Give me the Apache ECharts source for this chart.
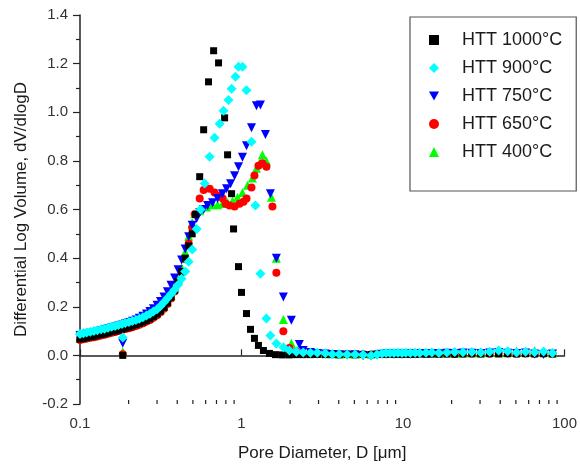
<!DOCTYPE html>
<html><head><meta charset="utf-8">
<script src="https://cdn.jsdelivr.net/npm/echarts@6/dist/echarts.min.js"></script>
<style>html,body{margin:0;padding:0;background:#fff}#c{width:580px;height:467px}</style>
</head><body><div id="c"></div>
<script>
const seriesNames = ['HTT 1000\u00B0C', 'HTT 900\u00B0C', 'HTT 750\u00B0C', 'HTT 650\u00B0C', 'HTT 400\u00B0C'];
const xTickLabels = ['0.1', '1', '10', '100'];
const xMinorTicks = [0.2,0.3,0.4,0.5,0.6,0.7,0.8,0.9,2,3,4,5,6,7,8,9,20,30,40,50,60,70,80,90];

// rising branch (shared diameters, µm)
const dLow = [0.100,0.105,0.110,0.116,0.122,0.128,0.135,0.142,0.149,0.157,0.165,0.173,0.182,0.191,0.201,0.211,0.222,0.233,0.245,0.258,0.271,0.285,0.300,0.315,0.331,0.348,0.366,0.385,0.405,0.426,0.448,0.471,0.495];
const low1000 = [0.067,0.070,0.073,0.076,0.079,0.082,0.086,0.089,0.093,0.097,0.100,0.104,0.108,0.112,0.116,0.121,0.126,0.131,0.137,0.144,0.151,0.160,0.170,0.182,0.197,0.216,0.239,0.268,0.303,0.345,0.400,0.450,0.500];
const low900  = [0.088,0.091,0.094,0.097,0.100,0.103,0.107,0.110,0.114,0.118,0.121,0.125,0.129,0.133,0.137,0.141,0.146,0.151,0.157,0.164,0.171,0.180,0.190,0.203,0.218,0.235,0.252,0.270,0.290,0.315,0.345,0.385,0.435];
const low750  = [0.082,0.085,0.088,0.091,0.094,0.097,0.101,0.105,0.109,0.113,0.117,0.121,0.125,0.130,0.135,0.140,0.146,0.153,0.161,0.170,0.180,0.192,0.206,0.222,0.240,0.262,0.288,0.318,0.352,0.392,0.438,0.488,0.535];
const low650  = [0.063,0.066,0.069,0.072,0.075,0.078,0.082,0.085,0.089,0.093,0.096,0.100,0.104,0.108,0.112,0.116,0.121,0.126,0.132,0.139,0.146,0.155,0.165,0.177,0.192,0.211,0.234,0.263,0.298,0.340,0.395,0.460,0.525];
const low400  = [0.070,0.073,0.076,0.079,0.082,0.085,0.089,0.092,0.096,0.100,0.103,0.107,0.111,0.115,0.119,0.124,0.129,0.134,0.140,0.147,0.155,0.164,0.175,0.188,0.203,0.222,0.246,0.276,0.312,0.360,0.425,0.490,0.545];

// peak and fall-off [D, dV/dlogD]
const peak1000 = [[0.520,0.580],[0.551,0.735],[0.583,0.928],[0.625,1.125],[0.672,1.253],[0.721,1.203],[0.786,0.977],[0.820,0.825],[0.868,0.665],[0.893,0.520],[0.958,0.365],[1.000,0.259],[1.074,0.172],[1.137,0.107],[1.203,0.070],[1.273,0.041],[1.367,0.020],[1.489,0.008],[1.622,0.003],[1.791,0.002],[1.979,0.002],[2.185,0.003]];
const peak900  = [[0.528,0.520],[0.558,0.600],[0.591,0.707],[0.635,0.817],[0.681,0.895],[0.732,0.953],[0.774,1.006],[0.831,1.050],[0.868,1.097],[0.918,1.146],[0.958,1.187],[1.014,1.187],[1.074,1.090],[1.153,0.879],[1.220,0.616],[1.310,0.336],[1.427,0.152],[1.510,0.082],[1.644,0.049],[1.817,0.033],[1.979,0.020],[2.185,0.015]];
const peak750  = [[0.528,0.563],[0.551,0.587],[0.583,0.600],[0.617,0.616],[0.662,0.628],[0.711,0.645],[0.763,0.665],[0.808,0.685],[0.856,0.706],[0.906,0.739],[0.958,0.776],[1.014,0.815],[1.074,0.862],[1.153,0.936],[1.238,1.027],[1.310,1.030],[1.407,0.908],[1.510,0.665],[1.644,0.400],[1.817,0.240],[2.036,0.144],[2.280,0.045]];
const peak650  = [[0.513,0.580],[0.551,0.645],[0.583,0.680],[0.635,0.685],[0.681,0.670],[0.732,0.657],[0.765,0.645],[0.797,0.624],[0.843,0.616],[0.906,0.612],[0.972,0.624],[1.030,0.632],[1.074,0.645],[1.153,0.690],[1.203,0.740],[1.273,0.780],[1.348,0.790],[1.427,0.776],[1.554,0.612],[1.644,0.340],[1.817,0.099],[1.979,0.030],[2.185,0.015]];
const peak400  = [[0.513,0.583],[0.551,0.595],[0.608,0.610],[0.662,0.620],[0.711,0.620],[0.763,0.625],[0.820,0.630],[0.880,0.635],[0.945,0.650],[1.014,0.670],[1.089,0.700],[1.169,0.730],[1.238,0.770],[1.292,0.790],[1.348,0.825],[1.427,0.800],[1.532,0.650],[1.644,0.400],[1.817,0.148],[2.036,0.050],[2.216,0.020]];

// flat tail (shared diameters, µm)
const tailD = [2.41,2.67,2.95,3.30,3.65,4.03,4.51,5.05,5.66,6.35,6.91,7.42,7.86,8.31,8.80,9.31,9.86,10.4,11.1,11.9,12.7,13.9,15.1,16.7,18.7,20.9,23.5,26.7,30.3,34.4,39.1,44.5,50.5,57.4,65.3,74.2,84.3];
const tail1000 = [0.003,0.003,0.004,0.003,0.004,0.003,0.004,0.003,0.004,0.003,0.004,0.005,0.004,0.005,0.004,0.005,0.004,0.005,0.004,0.005,0.006,0.005,0.006,0.005,0.006,0.005,0.006,0.007,0.006,0.007,0.006,0.007,0.006,0.007,0.006,0.007,0.006];
const tail900  = [0.012,0.011,0.011,0.009,0.005,0.005,0.004,0.004,0.003,0.000,0.004,0.008,0.010,0.010,0.010,0.011,0.010,0.011,0.010,0.011,0.010,0.011,0.012,0.010,0.012,0.014,0.013,0.014,0.012,0.015,0.020,0.017,0.012,0.015,0.013,0.016,0.010];
const tail750  = [0.020,0.012,0.008,0.006,0.004,0.003,0.002,0.003,-0.002,-0.003,0.002,0.005,0.006,0.007,0.006,0.007,0.006,0.007,0.006,0.007,0.008,0.007,0.008,0.007,0.009,0.008,0.010,0.009,0.008,0.010,0.012,0.009,0.008,0.010,0.006,0.004,0.006];
const tail650  = [0.008,0.006,0.005,0.006,0.005,0.004,0.005,0.004,0.005,0.004,0.005,0.006,0.005,0.006,0.005,0.006,0.005,0.006,0.005,0.006,0.007,0.006,0.007,0.006,0.007,0.006,0.008,0.007,0.008,0.007,0.009,0.008,0.007,0.008,0.007,0.008,0.007];
const tail400  = [0.014,0.010,0.009,0.008,0.007,0.006,0.007,0.006,0.007,0.006,0.008,0.009,0.008,0.009,0.008,0.009,0.008,0.009,0.008,0.009,0.010,0.009,0.010,0.009,0.010,0.011,0.010,0.011,0.010,0.012,0.011,0.013,0.018,0.012,0.020,0.012,0.010];

// isolated first points near 0.18 µm
const outlierD = 0.184;
const outlierVals = [0.000, 0.074, 0.050, 0.005, 0.015];

const lows = [low1000, low900, low750, low650, low400];
const peaks = [peak1000, peak900, peak750, peak650, peak400];
const tails = [tail1000, tail900, tail750, tail650, tail400];
const colors = ['#000000', '#00FFFF', '#0000FF', '#FF0000', '#00FF00'];
const symbols = ['rect', 'diamond', 'triangle', 'circle', 'triangle'];
const legendIcons = ['path://M1.5,1.5L8.5,1.5L8.5,8.5L1.5,8.5Z', 'diamond', 'path://M0,0L10,0L5,9Z', 'circle', 'triangle'];
const rotates = [0, 0, 180, 0, 0];
const sizes = [7, 10, 9, 8, 9];
const zs = [4, 5, 3, 2, 1];

const font = '"Liberation Sans", Arial, sans-serif';

function buildData(i) {
  const a = dLow.map((d, k) => [d, lows[i][k]]);
  const b = peaks[i];
  const c = tailD.map((d, k) => [d, tails[i][k]]);
  return a.concat(b, c, [[outlierD, outlierVals[i]]]);
}

const series = seriesNames.map((name, i) => ({
  name: name,
  type: 'scatter',
  data: buildData(i),
  symbol: symbols[i],
  symbolRotate: rotates[i],
  symbolSize: sizes[i],
  itemStyle: { color: colors[i], opacity: 1 },
  z: zs[i],
  silent: true
}));

series.push({
  type: 'custom',
  name: 'minorTicks',
  data: xMinorTicks.map(v => [v]),
  silent: true,
  clip: false,
  z: 10,
  renderItem: function (params, api) {
    const p = api.coord([api.value(0), -0.2]);
    return { type: 'line', shape: { x1: p[0], y1: p[1], x2: p[0], y2: p[1] - 4 }, style: { stroke: '#222', lineWidth: 1.2 } };
  }
});

const chart = echarts.init(document.getElementById('c'), null, { renderer: 'canvas' });
chart.setOption({
  animation: false,
  backgroundColor: '#fff',
  grid: { left: 80, top: 15, right: 14, bottom: 63, containLabel: false },
  legend: {
    data: seriesNames.map((n, i) => ({ name: n, icon: legendIcons[i] })),
    orient: 'vertical',
    left: 410,
    top: 17,
    padding: [14, 14, 30, 19],
    itemWidth: 10,
    itemHeight: 10,
    itemGap: 10,
    borderColor: '#555',
    borderWidth: 1.2,
    textStyle: { fontFamily: font, fontSize: 18, color: '#1a1a1a', padding: [0, 0, 0, 18] },
    selectedMode: false
  },
  xAxis: {
    type: 'log',
    logBase: 10,
    min: 0.1,
    max: 100,
    name: 'Pore Diameter, D [\u03BCm]',
    nameLocation: 'middle',
    nameGap: 41,
    nameTextStyle: { fontFamily: font, fontSize: 17, color: '#1a1a1a' },
    axisLine: { show: true, lineStyle: { color: '#222', width: 1.5 } },
    axisTick: { show: true, inside: true, length: 6, lineStyle: { color: '#222', width: 1.2 } },
    minorTick: { show: false },
    splitLine: { show: false },
    axisLabel: {
      fontFamily: font, fontSize: 15, color: '#333', margin: 12,
      formatter: function (v) {
        const idx = Math.round(Math.log10(v)) + 1;
        return xTickLabels[idx] !== undefined ? xTickLabels[idx] : '';
      }
    }
  },
  yAxis: {
    type: 'value',
    min: -0.2,
    max: 1.4,
    interval: 0.2,
    name: 'Differential Log Volume, dV/dlogD',
    nameLocation: 'middle',
    nameGap: 50,
    nameTextStyle: { fontFamily: font, fontSize: 17, color: '#1a1a1a' },
    axisLine: { show: true, lineStyle: { color: '#222', width: 1.5 } },
    axisTick: { show: true, inside: false, length: 7, lineStyle: { color: '#222', width: 1.2 } },
    minorTick: { show: true, splitNumber: 2, length: 4, lineStyle: { color: '#222', width: 1.2 } },
    splitLine: { show: false },
    axisLabel: {
      fontFamily: font, fontSize: 15, color: '#333', margin: 12,
      formatter: function (v) { return v.toFixed(1); }
    }
  },
  series: series
});
</script>
</body></html>
